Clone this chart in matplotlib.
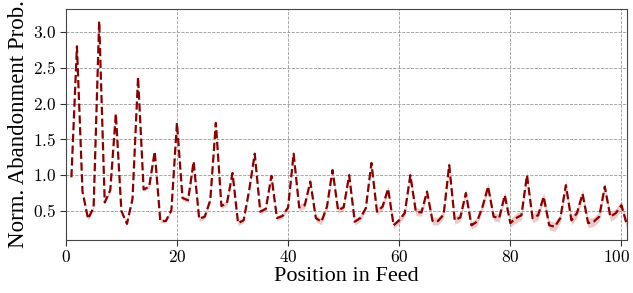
import matplotlib
matplotlib.use("Agg")
import matplotlib.pyplot as plt
import matplotlib.transforms as mtransforms
from matplotlib.ticker import FuncFormatter
import numpy as np

# Normalized abandonment probability per feed position
positions = list(range(1, 102))
prob = [0.97, 2.80, 0.77, 0.39, 0.55, 3.15, 0.62, 0.79, 1.86, 0.50,
        0.32, 0.67, 2.37, 0.80, 0.84, 1.33, 0.36, 0.36, 0.51, 1.73,
        0.68, 0.65, 1.19, 0.39, 0.42, 0.65, 1.73, 0.57, 0.61, 1.03,
        0.33, 0.37, 0.79, 1.30, 0.49, 0.53, 0.99, 0.40, 0.43, 0.55,
        1.30, 0.55, 0.58, 0.91, 0.40, 0.35, 0.56, 1.07, 0.51, 0.55,
        1.00, 0.35, 0.40, 0.54, 1.17, 0.49, 0.56, 0.81, 0.30, 0.37,
        0.47, 1.00, 0.49, 0.48, 0.77, 0.36, 0.36, 0.45, 1.14, 0.37,
        0.41, 0.75, 0.30, 0.35, 0.56, 0.84, 0.42, 0.40, 0.72, 0.33,
        0.40, 0.44, 1.00, 0.40, 0.44, 0.70, 0.30, 0.28, 0.40, 0.86,
        0.37, 0.47, 0.74, 0.33, 0.35, 0.42, 0.84, 0.42, 0.47, 0.58,
        0.30]
# half-width of the confidence band
err = [0.025] * 20 + [0.035] * 20 + [0.045] * 20 + [0.055] * 20 + [0.065] * 21

prob = np.array(prob)
err = np.array(err)

plt.rcParams["mathtext.fontset"] = "cm"
plt.rcParams["font.family"] = ["Liberation Serif", "DejaVu Serif"]

fig = plt.figure(figsize=(6.33, 2.93), dpi=100)
ax = fig.add_axes([0.104, 0.181, 0.8865, 0.788])

ax.fill_between(positions, prob - err, prob + err, color="#d98a8a", alpha=0.45, linewidth=0)
ax.plot(positions, prob, color="#8b0000", linestyle="--", linewidth=1.6)

ax.set_xlim(0, 101)
ax.set_ylim(0.095, 3.32)
ax.set_xticks([0, 20, 40, 60, 80, 100])
ax.set_yticks([0.5, 1.0, 1.5, 2.0, 2.5, 3.0])
ax.xaxis.set_major_formatter(FuncFormatter(lambda v, p: r"$%d$" % v))
ax.yaxis.set_major_formatter(FuncFormatter(lambda v, p: r"$%.1f$" % v))
ax.tick_params(labelsize=12.5, length=4, color="#333333", pad=3)
ax.grid(True, linestyle="--", linewidth=0.6, color="#999999")
for s in ax.spines.values():
    s.set_color("#444444")

# keep the last x tick label inside the figure
last = ax.get_xticklabels()[-1]
last.set_transform(last.get_transform() + mtransforms.ScaledTranslation(-5 / 100, 0, fig.dpi_scale_trans))

ax.set_xlabel("Position in Feed", fontsize=16, labelpad=1)
ax.set_ylabel("Norm. Abandonment Prob.", fontsize=16.5, labelpad=3)

fig.savefig("out.png", dpi=100)
